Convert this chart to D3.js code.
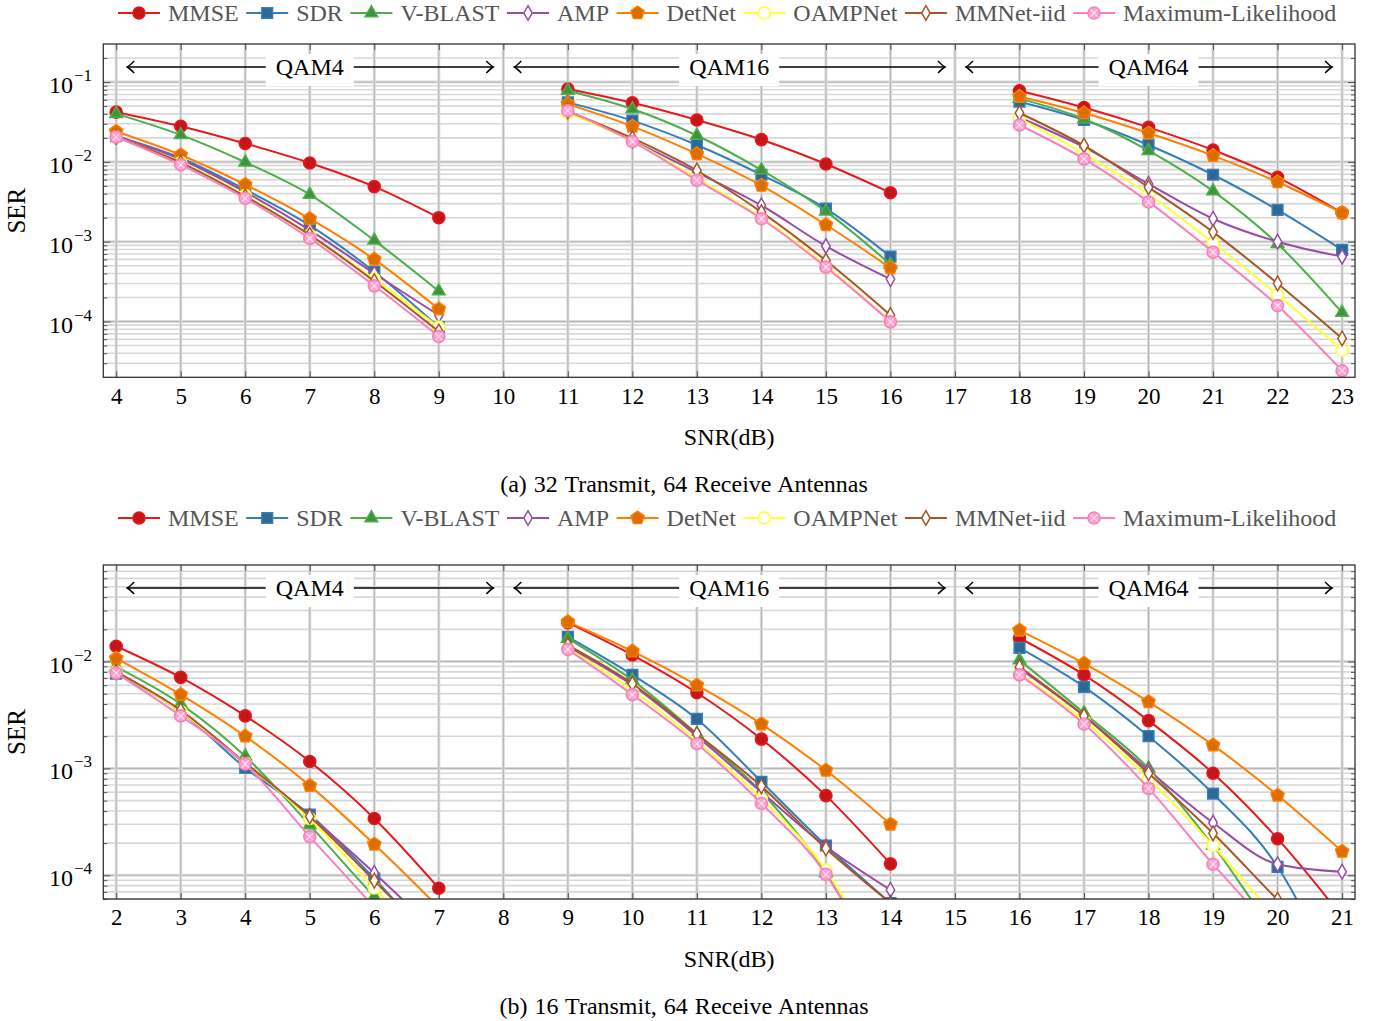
<!DOCTYPE html>
<html>
<head>
<meta charset="utf-8">
<script src="https://cdn.jsdelivr.net/npm/d3@7"></script>
<style>
  body { margin: 0; background: #fff; }
  text { font-family: "Liberation Serif", "Times New Roman", serif; }
</style>
</head>
<body>
<svg id="chart" width="1374" height="1021"></svg>
<script>
// ---- data ----
var methods = ["MMSE", "SDR", "V-BLAST", "AMP", "DetNet", "OAMPNet", "MMNet-iid", "Maximum-Likelihood"];
var qamNames = ["QAM4", "QAM16", "QAM64"];

// SNR points, 6 per modulation block
var snrTop = [4, 5, 6, 7, 8, 9, 11, 12, 13, 14, 15, 16, 18, 19, 20, 21, 22, 23];
var snrBottom = [2, 3, 4, 5, 6, 7, 9, 10, 11, 12, 13, 14, 16, 17, 18, 19, 20, 21];
var qamSpanTop = [4, 10, 17, 23];
var qamSpanBottom = [2, 8, 15, 21];
var xTicksTop = d3.range(4, 24);
var xTicksBottom = d3.range(2, 22);
var yTicksTop = [1e-1, 1e-2, 1e-3, 1e-4];
var yTicksBottom = [1e-2, 1e-3, 1e-4];

// (a) 32 transmit, 64 receive
var topMMSE   = [0.042, 0.028, 0.017, 0.0097, 0.0049, 0.002,   0.082, 0.055, 0.0335, 0.019, 0.0094, 0.0041,   0.078, 0.048, 0.0271, 0.0141, 0.0064, 0.0023];
var topSDR    = [0.021, 0.0112, 0.0045, 0.0016, 0.00042, 0.000085,   0.0557, 0.0329, 0.0163, 0.0069, 0.0026, 0.00065,   0.0567, 0.0335, 0.0163, 0.0069, 0.0025, 0.00079];
var topVBLAST = [0.040, 0.0218, 0.0099, 0.0039, 0.00104, 0.00024,   0.078, 0.046, 0.0214, 0.0079, 0.0024, 0.00052,   0.062, 0.0345, 0.0138, 0.0043, 0.00094, 0.000129];
var topAMP    = [0.021, 0.0108, 0.0042, 0.0014, 0.0004, 0.00012,   0.0438, 0.0185, 0.0074, 0.00285, 0.00088, 0.00034,   0.036, 0.0153, 0.0053, 0.00194, 0.001, 0.00065];
var topDetNet = [0.024, 0.0122, 0.0052, 0.00194, 0.0006, 0.000143,   0.053, 0.0279, 0.0126, 0.00506, 0.00163, 0.00047,   0.066, 0.041, 0.023, 0.012, 0.0056, 0.0023];
var topOAMP   = [0.0205, 0.0098, 0.0038, 0.0012, 0.00034, 0.000085,   0.041, 0.0182, 0.0062, 0.002, 0.0005, 0.0001,   0.035, 0.0126, 0.0039, 0.00097, 0.000216, 0.0000437];
var topMMNet  = [0.0205, 0.0098, 0.0037, 0.00122, 0.00032, 0.000075,   0.043, 0.0198, 0.0078, 0.00235, 0.00058, 0.00012,   0.041, 0.016, 0.0048, 0.00132, 0.0003, 0.0000613];
var topML     = [0.0205, 0.0092, 0.0035, 0.0011, 0.00028, 0.000065,   0.0438, 0.018, 0.0059, 0.00194, 0.00048, 0.0000991,   0.029, 0.0109, 0.00315, 0.00074, 0.000158, 0.0000242];

// (b) 16 transmit, 64 receive
var botMMSE   = [0.0139, 0.0071, 0.0031, 0.00116, 0.00034, 0.0000757,   0.0231, 0.0115, 0.0051, 0.00188, 0.000556, 0.000128,   0.0166, 0.0075, 0.0028, 0.0009, 0.00022, 0.000041];
var botSDR    = [0.0077, 0.0034, 0.00101, 0.00037, 0.000093, 0.00002,   0.017, 0.0075, 0.0029, 0.00075, 0.00019, 0.000055,   0.0134, 0.0058, 0.002, 0.00058, 0.00012, 0.000008];
var botVBLAST = [0.0089, 0.004, 0.0013, 0.000295, 0.000063, 0.000015,   0.0164, 0.0067, 0.0021, 0.0006, 0.000105, 0.000008,   0.0103, 0.0033, 0.001, 0.00019, 0.000028, 0.000008];
var botAMP    = [0.008, 0.0034, 0.0011, 0.00036, 0.000105, 0.000028,   0.0137, 0.006, 0.002, 0.0006, 0.000186, 0.000073,   0.0086, 0.0031, 0.00096, 0.00031, 0.000127, 0.000108];
var botDetNet = [0.0107, 0.0049, 0.002, 0.00069, 0.000195, 0.00005,   0.0235, 0.0125, 0.006, 0.0026, 0.00096, 0.0003,   0.0196, 0.0096, 0.0042, 0.00165, 0.00056, 0.000167];
var botOAMP   = [0.008, 0.0034, 0.00112, 0.00034, 0.000076, 0.00002,   0.0132, 0.0054, 0.0018, 0.00052, 0.000112, 0.00001,   0.0077, 0.0028, 0.0008, 0.00019, 0.000039, 0.00001];
var botMMNet  = [0.008, 0.0035, 0.00113, 0.000355, 0.000089, 0.000022,   0.0142, 0.0062, 0.0021, 0.00068, 0.000178, 0.000055,   0.0089, 0.0031, 0.0009, 0.000247, 0.000059, 0.000015];
var botML     = [0.0078, 0.0031, 0.0011, 0.00023, 0.00005, 0.00001,   0.013, 0.0049, 0.0017, 0.00047, 0.000102, 0.000008,   0.0075, 0.0026, 0.00065, 0.000127, 0.000028, 0.000007];

// ---- styles ----
var lineColors = ["#e41a1c", "#377eb8", "#4daf4a", "#984ea3", "#ff7f00", "#ffff33", "#a65628", "#f781bf"];
var markFills  = ["#c4161a", "#2d6896", "#3f933c", "#ffffff", "#dc6e00", "#ffffff", "#ffffff", "#f9a3d0"];
var markShapes = ["circle", "square", "triangle", "diamond", "pentagon", "circle", "diamond", "otimes"];

var svg = d3.select("#chart");

function pentagonPath(r) {
  var pts = d3.range(5).map(function(i) {
    var a = -Math.PI / 2 + i * 2 * Math.PI / 5;
    return [r * Math.cos(a), r * Math.sin(a)];
  });
  return "M" + pts.join("L") + "Z";
}

function drawMarker(g, shape, cx, cy, stroke, fill) {
  var m = g.append("g").attr("transform", "translate(" + cx + "," + cy + ")");
  if (shape === "circle" || shape === "otimes") {
    m.append("circle").attr("r", 6).attr("fill", fill).attr("stroke", stroke).attr("stroke-width", 1.6);
    if (shape === "otimes") {
      m.append("path").attr("d", "M-3.6,-3.6L3.6,3.6M-3.6,3.6L3.6,-3.6")
        .attr("stroke", "#fde3f0").attr("stroke-width", 1.1);
    }
  } else if (shape === "pentagon") {
    m.append("path").attr("d", pentagonPath(7)).attr("fill", fill).attr("stroke", stroke).attr("stroke-width", 1.4);
  } else {
    var type = { square: d3.symbolSquare, triangle: d3.symbolTriangle, diamond: d3.symbolDiamond }[shape];
    var size = { square: 115, triangle: 70, diamond: 62 }[shape];
    m.append("path").attr("d", d3.symbol().type(type).size(size)())
      .attr("fill", fill).attr("stroke", stroke).attr("stroke-width", 1.5);
  }
}

function supLabel(g, x, y, exp) {
  var t = g.append("text").attr("x", x).attr("y", y + 11).attr("text-anchor", "end")
    .attr("fill", "#000").style("font-size", "24px");
  t.append("tspan").text("10");
  t.append("tspan").attr("dy", -12).attr("dx", 1).style("font-size", "17px").text("\u2212" + exp);
}

function drawPanel(cfg) {
  var left = 103.3, right = 1355;
  var x = d3.scaleLinear().domain(cfg.xDomain).range([left, right]);
  var y = d3.scaleLog().domain(cfg.yDomain).range([cfg.bottom, cfg.top]);
  var g = svg.append("g");

  // minor y values for grid
  var minors = [];
  var lo = Math.floor(Math.log10(cfg.yDomain[0])), hi = Math.ceil(Math.log10(cfg.yDomain[1]));
  for (var e = lo; e < hi; e++) {
    for (var k = 2; k <= 9; k++) {
      var v = k * Math.pow(10, e);
      if (v > cfg.yDomain[0] && v < cfg.yDomain[1]) minors.push(v);
    }
  }

  // grid
  var grid = g.append("g");
  grid.selectAll(".hmin").data(minors).enter().append("line")
    .attr("x1", left).attr("x2", right).attr("y1", y).attr("y2", y)
    .attr("stroke", "#d7d7d7").attr("stroke-width", 1.6);
  grid.selectAll(".hmaj").data(cfg.yTicks).enter().append("line")
    .attr("x1", left).attr("x2", right).attr("y1", y).attr("y2", y)
    .attr("stroke", "#dcdcdc").attr("stroke-width", 3);
  grid.selectAll(".hmaj2").data(cfg.yTicks).enter().append("line")
    .attr("x1", left).attr("x2", right).attr("y1", y).attr("y2", y)
    .attr("stroke", "#b4b4b4").attr("stroke-width", 1);
  grid.selectAll(".vmaj").data(cfg.xTicks).enter().append("line")
    .attr("x1", x).attr("x2", x).attr("y1", cfg.top).attr("y2", cfg.bottom)
    .attr("stroke", "#dcdcdc").attr("stroke-width", 3);
  grid.selectAll(".vmaj2").data(cfg.xTicks).enter().append("line")
    .attr("x1", x).attr("x2", x).attr("y1", cfg.top).attr("y2", cfg.bottom)
    .attr("stroke", "#b4b4b4").attr("stroke-width", 1);

  // ticks (inside, mirrored)
  var tickC = "#555";
  g.append("g").attr("transform", "translate(0," + cfg.bottom + ")")
    .call(d3.axisBottom(x).tickValues(cfg.xTicks).tickSize(-6).tickPadding(10).tickFormat(d3.format("d")))
    .call(function(a) {
      a.select(".domain").remove();
      a.selectAll("line").attr("stroke", tickC);
      a.selectAll("text").attr("fill", "#000").style("font-size", "23px")
        .style("font-family", "Liberation Serif, serif");
    });
  g.append("g").attr("transform", "translate(0," + cfg.top + ")")
    .call(d3.axisTop(x).tickValues(cfg.xTicks).tickSize(-6).tickFormat(""))
    .call(function(a) { a.select(".domain").remove(); a.selectAll("line").attr("stroke", tickC); });
  [[d3.axisLeft, left], [d3.axisRight, right]].forEach(function(p) {
    g.append("g").attr("transform", "translate(" + p[1] + ",0)")
      .call(p[0](y).tickValues(cfg.yTicks).tickSize(-7).tickFormat(""))
      .call(function(a) { a.select(".domain").remove(); a.selectAll("line").attr("stroke", tickC); });
    g.append("g").attr("transform", "translate(" + p[1] + ",0)")
      .call(p[0](y).tickValues(minors).tickSize(-4).tickFormat(""))
      .call(function(a) { a.select(".domain").remove(); a.selectAll("line").attr("stroke", tickC); });
  });

  cfg.yTicks.forEach(function(v) {
    supLabel(g, 92, y(v), -Math.round(Math.log10(v)));
  });

  // data
  var clipId = "clip" + cfg.id;
  svg.append("clipPath").attr("id", clipId).append("rect")
    .attr("x", left).attr("y", cfg.top).attr("width", right - left).attr("height", cfg.bottom - cfg.top);
  var plot = g.append("g").attr("clip-path", "url(#" + clipId + ")");
  var line = d3.line()
    .x(function(d) { return x(d[0]); })
    .y(function(d) { return y(d[1]); })
    .curve(d3.curveMonotoneX);

  cfg.series.forEach(function(vals, si) {
    var sg = plot.append("g");
    for (var b = 0; b < 3; b++) {
      var pts = d3.range(b * 6, b * 6 + 6).map(function(i) { return [cfg.snr[i], vals[i]]; });
      sg.append("path").attr("d", line(pts)).attr("fill", "none")
        .attr("stroke", lineColors[si]).attr("stroke-width", 2);
    }
    vals.forEach(function(v, i) {
      drawMarker(sg, markShapes[si], x(cfg.snr[i]), y(v), lineColors[si], markFills[si]);
    });
  });

  // frame
  g.append("rect").attr("x", left).attr("y", cfg.top).attr("width", right - left)
    .attr("height", cfg.bottom - cfg.top).attr("fill", "none").attr("stroke", "#333").attr("stroke-width", 1.3);

  // modulation spans
  var ay = cfg.top + 23;
  qamNames.forEach(function(name, i) {
    var x0 = x(cfg.spans[i]) + 11, x1 = x(cfg.spans[i + 1]) - 10;
    var ag = g.append("g");
    ag.append("line").attr("x1", x0).attr("x2", x1).attr("y1", ay).attr("y2", ay)
      .attr("stroke", "#000").attr("stroke-width", 1.4);
    ag.append("path").attr("d", "M" + (x0 + 7) + "," + (ay - 6) + "Q" + (x0 + 2) + "," + (ay - 1) + " " + x0 + "," + ay +
        "Q" + (x0 + 2) + "," + (ay + 1) + " " + (x0 + 7) + "," + (ay + 6))
      .attr("fill", "none").attr("stroke", "#000").attr("stroke-width", 1.4);
    ag.append("path").attr("d", "M" + (x1 - 7) + "," + (ay - 6) + "Q" + (x1 - 2) + "," + (ay - 1) + " " + x1 + "," + ay +
        "Q" + (x1 - 2) + "," + (ay + 1) + " " + (x1 - 7) + "," + (ay + 6))
      .attr("fill", "none").attr("stroke", "#000").attr("stroke-width", 1.4);
    var cx = (x(cfg.spans[i]) + x(cfg.spans[i + 1])) / 2;
    var t = ag.append("text").attr("x", cx).attr("y", ay + 8).attr("text-anchor", "middle")
      .style("font-size", "24px").attr("fill", "#000").text(name);
    var w = t.node().getComputedTextLength();
    ag.insert("rect", "text").attr("x", cx - w / 2 - 10).attr("y", ay - 13)
      .attr("width", w + 20).attr("height", 32).attr("fill", "#fff");
  });

  // axis labels
  svg.append("text").attr("transform", "translate(25," + ((cfg.top + cfg.bottom) / 2) + ") rotate(-90)")
    .attr("text-anchor", "middle").style("font-size", "25px").text("SER");
  svg.append("text").attr("x", (left + right) / 2).attr("y", cfg.bottom + 68)
    .attr("text-anchor", "middle").style("font-size", "24px").text("SNR(dB)");
  svg.append("text").attr("x", 684).attr("y", cfg.bottom + 115)
    .attr("text-anchor", "middle").style("font-size", "24px").style("word-spacing", "1px").text(cfg.caption);

  // legend
  var lg = svg.append("g");
  var lx = 118, ly = cfg.legendY;
  methods.forEach(function(name, si) {
    lg.append("line").attr("x1", lx).attr("x2", lx + 42).attr("y1", ly).attr("y2", ly)
      .attr("stroke", lineColors[si]).attr("stroke-width", 2);
    drawMarker(lg, markShapes[si], lx + 21, ly, lineColors[si], markFills[si]);
    var t = lg.append("text").attr("x", lx + 50).attr("y", ly + 8).style("font-size", "24px")
      .attr("fill", "#555").text(name);
    lx = lx + 50 + t.node().getComputedTextLength() + 7.5;
  });
}

drawPanel({
  id: "a", top: 44, bottom: 377.3, xDomain: [3.8, 23.2], yDomain: [2e-5, 0.3],
  snr: snrTop, xTicks: xTicksTop, yTicks: yTicksTop, spans: qamSpanTop,
  series: [topMMSE, topSDR, topVBLAST, topAMP, topDetNet, topOAMP, topMMNet, topML],
  legendY: 13, caption: "(a) 32 Transmit, 64 Receive Antennas"
});
drawPanel({
  id: "b", top: 565, bottom: 899, xDomain: [1.8, 21.2], yDomain: [6e-5, 0.08],
  snr: snrBottom, xTicks: xTicksBottom, yTicks: yTicksBottom, spans: qamSpanBottom,
  series: [botMMSE, botSDR, botVBLAST, botAMP, botDetNet, botOAMP, botMMNet, botML],
  legendY: 518, caption: "(b) 16 Transmit, 64 Receive Antennas"
});
</script>
</body>
</html>
